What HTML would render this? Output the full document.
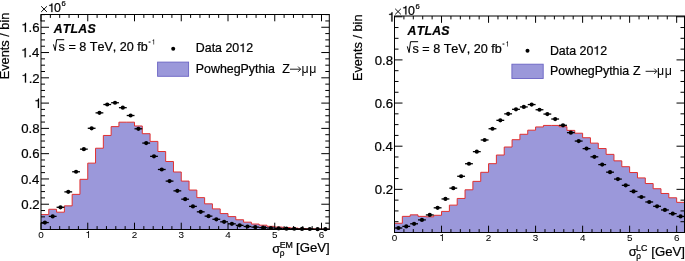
<!DOCTYPE html>
<html><head><meta charset="utf-8"><style>
html,body{margin:0;padding:0;background:#fff;}
body{width:685px;height:261px;overflow:hidden;font-family:"Liberation Sans", sans-serif;}
svg{display:block;font-kerning:none;will-change:transform;} text{font-kerning:none;stroke:#000;stroke-width:0.22px;} text.thin{stroke-width:0.04px;} text.mu{stroke-width:0px;}
</style></head><body>
<svg width="685" height="261" viewBox="0 0 685 261" font-family='"Liberation Sans", sans-serif'>
<rect width="685" height="261" fill="#fff"/>
<path d="M41.00,229.50 L41.00,214.58 L48.79,214.58 L48.79,209.27 L56.58,209.27 L56.58,212.18 L64.38,212.18 L64.38,205.86 L72.17,205.86 L72.17,194.36 L79.96,194.36 L79.96,179.32 L87.75,179.32 L87.75,163.14 L95.54,163.14 L95.54,148.22 L103.34,148.22 L103.34,135.46 L111.13,135.46 L111.13,126.61 L118.92,126.61 L118.92,122.18 L126.71,122.18 L126.71,122.18 L134.50,122.18 L134.50,125.98 L142.29,125.98 L142.29,133.69 L150.09,133.69 L150.09,141.40 L157.88,141.40 L157.88,151.51 L165.67,151.51 L165.67,161.49 L173.46,161.49 L173.46,171.99 L181.25,171.99 L181.25,181.09 L189.05,181.09 L189.05,190.06 L196.84,190.06 L196.84,197.64 L204.63,197.64 L204.63,203.84 L212.42,203.84 L212.42,208.89 L220.21,208.89 L220.21,213.57 L228.01,213.57 L228.01,216.60 L235.80,216.60 L235.80,219.76 L243.59,219.76 L243.59,222.17 L251.38,222.17 L251.38,224.06 L259.17,224.06 L259.17,225.20 L266.96,225.20 L266.96,226.34 L274.76,226.34 L274.76,227.10 L282.55,227.10 L282.55,227.60 L290.34,227.60 L290.34,228.11 L298.13,228.11 L298.13,228.49 L305.92,228.49 L305.92,228.74 L313.72,228.74 L313.72,228.99 L321.51,228.99 L321.51,229.12 L329.30,229.12 L329.30,229.50 Z" fill="#9b98da" stroke="none"/>
<path d="M41.00,214.58 L48.79,214.58 L48.79,209.27 L56.58,209.27 L56.58,212.18 L64.38,212.18 L64.38,205.86 L72.17,205.86 L72.17,194.36 L79.96,194.36 L79.96,179.32 L87.75,179.32 L87.75,163.14 L95.54,163.14 L95.54,148.22 L103.34,148.22 L103.34,135.46 L111.13,135.46 L111.13,126.61 L118.92,126.61 L118.92,122.18 L126.71,122.18 L126.71,122.18 L134.50,122.18 L134.50,125.98 L142.29,125.98 L142.29,133.69 L150.09,133.69 L150.09,141.40 L157.88,141.40 L157.88,151.51 L165.67,151.51 L165.67,161.49 L173.46,161.49 L173.46,171.99 L181.25,171.99 L181.25,181.09 L189.05,181.09 L189.05,190.06 L196.84,190.06 L196.84,197.64 L204.63,197.64 L204.63,203.84 L212.42,203.84 L212.42,208.89 L220.21,208.89 L220.21,213.57 L228.01,213.57 L228.01,216.60 L235.80,216.60 L235.80,219.76 L243.59,219.76 L243.59,222.17 L251.38,222.17 L251.38,224.06 L259.17,224.06 L259.17,225.20 L266.96,225.20 L266.96,226.34 L274.76,226.34 L274.76,227.10 L282.55,227.10 L282.55,227.60 L290.34,227.60 L290.34,228.11 L298.13,228.11 L298.13,228.49 L305.92,228.49 L305.92,228.74 L313.72,228.74 L313.72,228.99 L321.51,228.99 L321.51,229.12 L329.30,229.12" fill="none" stroke="#e03030" stroke-width="1.0"/>
<line x1="41.00" y1="222.57" x2="48.79" y2="222.57" stroke="#000" stroke-width="1.3"/>
<circle cx="44.90" cy="222.57" r="2.1" fill="#000"/>
<line x1="48.79" y1="216.38" x2="56.58" y2="216.38" stroke="#000" stroke-width="1.3"/>
<circle cx="52.69" cy="216.38" r="2.1" fill="#000"/>
<line x1="56.58" y1="207.28" x2="64.38" y2="207.28" stroke="#000" stroke-width="1.3"/>
<circle cx="60.48" cy="207.28" r="2.1" fill="#000"/>
<line x1="64.38" y1="191.86" x2="72.17" y2="191.86" stroke="#000" stroke-width="1.3"/>
<circle cx="68.27" cy="191.86" r="2.1" fill="#000"/>
<line x1="72.17" y1="171.76" x2="79.96" y2="171.76" stroke="#000" stroke-width="1.3"/>
<circle cx="76.06" cy="171.76" r="2.1" fill="#000"/>
<line x1="79.96" y1="149.14" x2="87.75" y2="149.14" stroke="#000" stroke-width="1.3"/>
<circle cx="83.86" cy="149.14" r="2.1" fill="#000"/>
<line x1="87.75" y1="128.28" x2="95.54" y2="128.28" stroke="#000" stroke-width="1.3"/>
<circle cx="91.65" cy="128.28" r="2.1" fill="#000"/>
<line x1="95.54" y1="112.86" x2="103.34" y2="112.86" stroke="#000" stroke-width="1.3"/>
<circle cx="99.44" cy="112.86" r="2.1" fill="#000"/>
<line x1="103.34" y1="104.52" x2="111.13" y2="104.52" stroke="#000" stroke-width="1.3"/>
<circle cx="107.23" cy="104.52" r="2.1" fill="#000"/>
<line x1="111.13" y1="102.75" x2="118.92" y2="102.75" stroke="#000" stroke-width="1.3"/>
<circle cx="115.02" cy="102.75" r="2.1" fill="#000"/>
<line x1="118.92" y1="107.68" x2="126.71" y2="107.68" stroke="#000" stroke-width="1.3"/>
<circle cx="122.81" cy="107.68" r="2.1" fill="#000"/>
<line x1="126.71" y1="115.51" x2="134.50" y2="115.51" stroke="#000" stroke-width="1.3"/>
<circle cx="130.61" cy="115.51" r="2.1" fill="#000"/>
<line x1="134.50" y1="128.79" x2="142.29" y2="128.79" stroke="#000" stroke-width="1.3"/>
<circle cx="138.40" cy="128.79" r="2.1" fill="#000"/>
<line x1="142.29" y1="143.07" x2="150.09" y2="143.07" stroke="#000" stroke-width="1.3"/>
<circle cx="146.19" cy="143.07" r="2.1" fill="#000"/>
<line x1="150.09" y1="156.34" x2="157.88" y2="156.34" stroke="#000" stroke-width="1.3"/>
<circle cx="153.98" cy="156.34" r="2.1" fill="#000"/>
<line x1="157.88" y1="169.49" x2="165.67" y2="169.49" stroke="#000" stroke-width="1.3"/>
<circle cx="161.77" cy="169.49" r="2.1" fill="#000"/>
<line x1="165.67" y1="181.12" x2="173.46" y2="181.12" stroke="#000" stroke-width="1.3"/>
<circle cx="169.57" cy="181.12" r="2.1" fill="#000"/>
<line x1="173.46" y1="190.85" x2="181.25" y2="190.85" stroke="#000" stroke-width="1.3"/>
<circle cx="177.36" cy="190.85" r="2.1" fill="#000"/>
<line x1="181.25" y1="199.19" x2="189.05" y2="199.19" stroke="#000" stroke-width="1.3"/>
<circle cx="185.15" cy="199.19" r="2.1" fill="#000"/>
<line x1="189.05" y1="206.40" x2="196.84" y2="206.40" stroke="#000" stroke-width="1.3"/>
<circle cx="192.94" cy="206.40" r="2.1" fill="#000"/>
<line x1="196.84" y1="211.83" x2="204.63" y2="211.83" stroke="#000" stroke-width="1.3"/>
<circle cx="200.73" cy="211.83" r="2.1" fill="#000"/>
<line x1="204.63" y1="216.13" x2="212.42" y2="216.13" stroke="#000" stroke-width="1.3"/>
<circle cx="208.53" cy="216.13" r="2.1" fill="#000"/>
<line x1="212.42" y1="219.29" x2="220.21" y2="219.29" stroke="#000" stroke-width="1.3"/>
<circle cx="216.32" cy="219.29" r="2.1" fill="#000"/>
<line x1="220.21" y1="221.82" x2="228.01" y2="221.82" stroke="#000" stroke-width="1.3"/>
<circle cx="224.11" cy="221.82" r="2.1" fill="#000"/>
<line x1="228.01" y1="223.84" x2="235.80" y2="223.84" stroke="#000" stroke-width="1.3"/>
<circle cx="231.90" cy="223.84" r="2.1" fill="#000"/>
<line x1="235.80" y1="225.36" x2="243.59" y2="225.36" stroke="#000" stroke-width="1.3"/>
<circle cx="239.69" cy="225.36" r="2.1" fill="#000"/>
<line x1="243.59" y1="226.49" x2="251.38" y2="226.49" stroke="#000" stroke-width="1.3"/>
<circle cx="247.49" cy="226.49" r="2.1" fill="#000"/>
<line x1="251.38" y1="227.12" x2="259.17" y2="227.12" stroke="#000" stroke-width="1.3"/>
<circle cx="255.28" cy="227.12" r="2.1" fill="#000"/>
<line x1="259.17" y1="227.63" x2="266.96" y2="227.63" stroke="#000" stroke-width="1.3"/>
<circle cx="263.07" cy="227.63" r="2.1" fill="#000"/>
<line x1="266.96" y1="228.01" x2="274.76" y2="228.01" stroke="#000" stroke-width="1.3"/>
<circle cx="270.86" cy="228.01" r="2.1" fill="#000"/>
<line x1="274.76" y1="228.39" x2="282.55" y2="228.39" stroke="#000" stroke-width="1.3"/>
<circle cx="278.65" cy="228.39" r="2.1" fill="#000"/>
<line x1="282.55" y1="228.64" x2="290.34" y2="228.64" stroke="#000" stroke-width="1.3"/>
<circle cx="286.44" cy="228.64" r="2.1" fill="#000"/>
<line x1="290.34" y1="228.77" x2="298.13" y2="228.77" stroke="#000" stroke-width="1.3"/>
<circle cx="294.24" cy="228.77" r="2.1" fill="#000"/>
<line x1="298.13" y1="228.89" x2="305.92" y2="228.89" stroke="#000" stroke-width="1.3"/>
<circle cx="302.03" cy="228.89" r="2.1" fill="#000"/>
<line x1="305.92" y1="229.02" x2="313.72" y2="229.02" stroke="#000" stroke-width="1.3"/>
<circle cx="309.82" cy="229.02" r="2.1" fill="#000"/>
<line x1="313.72" y1="229.15" x2="321.51" y2="229.15" stroke="#000" stroke-width="1.3"/>
<circle cx="317.61" cy="229.15" r="2.1" fill="#000"/>
<line x1="321.51" y1="229.15" x2="329.30" y2="229.15" stroke="#000" stroke-width="1.3"/>
<circle cx="325.40" cy="229.15" r="2.1" fill="#000"/>
<rect x="41.00" y="14.50" width="288.30" height="215.00" fill="none" stroke="#000" stroke-width="1.0"/>
<path d="M41.00,229.50v-6.8 M41.00,14.50v6.8 M50.35,229.50v-3.4 M50.35,14.50v3.4 M59.70,229.50v-3.4 M59.70,14.50v3.4 M69.05,229.50v-3.4 M69.05,14.50v3.4 M78.40,229.50v-3.4 M78.40,14.50v3.4 M87.75,229.50v-6.8 M87.75,14.50v6.8 M97.10,229.50v-3.4 M97.10,14.50v3.4 M106.45,229.50v-3.4 M106.45,14.50v3.4 M115.80,229.50v-3.4 M115.80,14.50v3.4 M125.15,229.50v-3.4 M125.15,14.50v3.4 M134.50,229.50v-6.8 M134.50,14.50v6.8 M143.85,229.50v-3.4 M143.85,14.50v3.4 M153.20,229.50v-3.4 M153.20,14.50v3.4 M162.55,229.50v-3.4 M162.55,14.50v3.4 M171.90,229.50v-3.4 M171.90,14.50v3.4 M181.25,229.50v-6.8 M181.25,14.50v6.8 M190.60,229.50v-3.4 M190.60,14.50v3.4 M199.95,229.50v-3.4 M199.95,14.50v3.4 M209.30,229.50v-3.4 M209.30,14.50v3.4 M218.66,229.50v-3.4 M218.66,14.50v3.4 M228.01,229.50v-6.8 M228.01,14.50v6.8 M237.36,229.50v-3.4 M237.36,14.50v3.4 M246.71,229.50v-3.4 M246.71,14.50v3.4 M256.06,229.50v-3.4 M256.06,14.50v3.4 M265.41,229.50v-3.4 M265.41,14.50v3.4 M274.76,229.50v-6.8 M274.76,14.50v6.8 M284.11,229.50v-3.4 M284.11,14.50v3.4 M293.46,229.50v-3.4 M293.46,14.50v3.4 M302.81,229.50v-3.4 M302.81,14.50v3.4 M312.16,229.50v-3.4 M312.16,14.50v3.4 M321.51,229.50v-6.8 M321.51,14.50v6.8 M41.00,229.50h8.0 M329.30,229.50h-8.0 M41.00,223.18h4.0 M329.30,223.18h-4.0 M41.00,216.86h4.0 M329.30,216.86h-4.0 M41.00,210.54h4.0 M329.30,210.54h-4.0 M41.00,204.22h8.0 M329.30,204.22h-8.0 M41.00,197.90h4.0 M329.30,197.90h-4.0 M41.00,191.58h4.0 M329.30,191.58h-4.0 M41.00,185.26h4.0 M329.30,185.26h-4.0 M41.00,178.94h8.0 M329.30,178.94h-8.0 M41.00,172.62h4.0 M329.30,172.62h-4.0 M41.00,166.30h4.0 M329.30,166.30h-4.0 M41.00,159.98h4.0 M329.30,159.98h-4.0 M41.00,153.66h8.0 M329.30,153.66h-8.0 M41.00,147.34h4.0 M329.30,147.34h-4.0 M41.00,141.02h4.0 M329.30,141.02h-4.0 M41.00,134.70h4.0 M329.30,134.70h-4.0 M41.00,128.38h8.0 M329.30,128.38h-8.0 M41.00,122.06h4.0 M329.30,122.06h-4.0 M41.00,115.74h4.0 M329.30,115.74h-4.0 M41.00,109.42h4.0 M329.30,109.42h-4.0 M41.00,103.10h8.0 M329.30,103.10h-8.0 M41.00,96.78h4.0 M329.30,96.78h-4.0 M41.00,90.46h4.0 M329.30,90.46h-4.0 M41.00,84.14h4.0 M329.30,84.14h-4.0 M41.00,77.82h8.0 M329.30,77.82h-8.0 M41.00,71.50h4.0 M329.30,71.50h-4.0 M41.00,65.18h4.0 M329.30,65.18h-4.0 M41.00,58.86h4.0 M329.30,58.86h-4.0 M41.00,52.54h8.0 M329.30,52.54h-8.0 M41.00,46.22h4.0 M329.30,46.22h-4.0 M41.00,39.90h4.0 M329.30,39.90h-4.0 M41.00,33.58h4.0 M329.30,33.58h-4.0 M41.00,27.26h8.0 M329.30,27.26h-8.0 M41.00,20.94h4.0 M329.30,20.94h-4.0 M41.00,14.62h4.0 M329.30,14.62h-4.0" stroke="#000" stroke-width="1.0" fill="none"/>
<text x="38.24" y="238.00" font-size="9.9" class="thin">0</text>
<path d="M89.03,238.00 L89.03,231.04 L88.37,231.04 L88.15,231.81 L87.60,232.21 L86.47,232.29 L86.47,232.93 L88.18,232.93 L88.18,238.00 Z" fill="#000"/>
<text x="131.76" y="238.00" font-size="9.9" class="thin">2</text>
<text x="178.53" y="238.00" font-size="9.9" class="thin">3</text>
<text x="225.28" y="238.00" font-size="9.9" class="thin">4</text>
<text x="272.01" y="238.00" font-size="9.9" class="thin">5</text>
<text x="318.72" y="238.00" font-size="9.9" class="thin">6</text>
<text x="21.33" y="209.02" font-size="13.2">0.2</text>
<text x="21.03" y="183.74" font-size="13.2">0.4</text>
<text x="21.23" y="158.46" font-size="13.2">0.6</text>
<text x="21.23" y="133.18" font-size="13.2">0.8</text>
<path d="M39.00,107.90 L39.00,98.62 L38.12,98.62 L37.83,99.65 L37.10,100.18 L35.59,100.28 L35.59,101.14 L37.86,101.14 L37.86,107.90 Z" fill="#000" stroke="#000" stroke-width="0.22"/>
<path d="M26.06,82.62 L26.06,73.34 L25.18,73.34 L24.89,74.37 L24.16,74.90 L22.66,75.00 L22.66,75.86 L24.93,75.86 L24.93,82.62 Z" fill="#000" stroke="#000" stroke-width="0.22"/>
<text x="28.67" y="82.62" font-size="13.2">.2</text>
<path d="M25.77,57.34 L25.77,48.06 L24.88,48.06 L24.59,49.09 L23.87,49.62 L22.36,49.72 L22.36,50.58 L24.63,50.58 L24.63,57.34 Z" fill="#000" stroke="#000" stroke-width="0.22"/>
<text x="28.37" y="57.34" font-size="13.2">.4</text>
<path d="M25.97,32.06 L25.97,22.78 L25.08,22.78 L24.79,23.81 L24.06,24.34 L22.56,24.44 L22.56,25.30 L24.83,25.30 L24.83,32.06 Z" fill="#000" stroke="#000" stroke-width="0.22"/>
<text x="28.57" y="32.06" font-size="13.2">.6</text>
<path d="M394.50,232.50 L394.50,223.28 L402.34,223.28 L402.34,216.37 L410.18,216.37 L410.18,214.85 L418.01,214.85 L418.01,216.37 L425.85,216.37 L425.85,216.80 L433.69,216.80 L433.69,215.29 L441.53,215.29 L441.53,211.40 L449.36,211.40 L449.36,205.13 L457.20,205.13 L457.20,198.44 L465.04,198.44 L465.04,189.80 L472.88,189.80 L472.88,181.37 L480.72,181.37 L480.72,172.30 L488.55,172.30 L488.55,163.66 L496.39,163.66 L496.39,155.02 L504.23,155.02 L504.23,147.03 L512.07,147.03 L512.07,139.69 L519.91,139.69 L519.91,134.29 L527.74,134.29 L527.74,130.18 L535.58,130.18 L535.58,126.94 L543.42,126.94 L543.42,125.43 L551.26,125.43 L551.26,125.43 L559.09,125.43 L559.09,126.73 L566.93,126.73 L566.93,130.40 L574.77,130.40 L574.77,133.21 L582.61,133.21 L582.61,137.74 L590.45,137.74 L590.45,143.14 L598.28,143.14 L598.28,148.54 L606.12,148.54 L606.12,154.37 L613.96,154.37 L613.96,160.85 L621.80,160.85 L621.80,166.69 L629.64,166.69 L629.64,172.52 L637.47,172.52 L637.47,177.92 L645.31,177.92 L645.31,183.53 L653.15,183.53 L653.15,188.72 L660.99,188.72 L660.99,193.47 L668.82,193.47 L668.82,197.79 L676.66,197.79 L676.66,202.33 L684.50,202.33 L684.50,232.50 Z" fill="#9b98da" stroke="none"/>
<path d="M394.50,223.28 L402.34,223.28 L402.34,216.37 L410.18,216.37 L410.18,214.85 L418.01,214.85 L418.01,216.37 L425.85,216.37 L425.85,216.80 L433.69,216.80 L433.69,215.29 L441.53,215.29 L441.53,211.40 L449.36,211.40 L449.36,205.13 L457.20,205.13 L457.20,198.44 L465.04,198.44 L465.04,189.80 L472.88,189.80 L472.88,181.37 L480.72,181.37 L480.72,172.30 L488.55,172.30 L488.55,163.66 L496.39,163.66 L496.39,155.02 L504.23,155.02 L504.23,147.03 L512.07,147.03 L512.07,139.69 L519.91,139.69 L519.91,134.29 L527.74,134.29 L527.74,130.18 L535.58,130.18 L535.58,126.94 L543.42,126.94 L543.42,125.43 L551.26,125.43 L551.26,125.43 L559.09,125.43 L559.09,126.73 L566.93,126.73 L566.93,130.40 L574.77,130.40 L574.77,133.21 L582.61,133.21 L582.61,137.74 L590.45,137.74 L590.45,143.14 L598.28,143.14 L598.28,148.54 L606.12,148.54 L606.12,154.37 L613.96,154.37 L613.96,160.85 L621.80,160.85 L621.80,166.69 L629.64,166.69 L629.64,172.52 L637.47,172.52 L637.47,177.92 L645.31,177.92 L645.31,183.53 L653.15,183.53 L653.15,188.72 L660.99,188.72 L660.99,193.47 L668.82,193.47 L668.82,197.79 L676.66,197.79 L676.66,202.33 L684.50,202.33" fill="none" stroke="#e03030" stroke-width="1.0"/>
<line x1="394.50" y1="228.00" x2="402.34" y2="228.00" stroke="#000" stroke-width="1.3"/>
<circle cx="398.42" cy="228.00" r="2.1" fill="#000"/>
<line x1="402.34" y1="226.38" x2="410.18" y2="226.38" stroke="#000" stroke-width="1.3"/>
<circle cx="406.26" cy="226.38" r="2.1" fill="#000"/>
<line x1="410.18" y1="223.79" x2="418.01" y2="223.79" stroke="#000" stroke-width="1.3"/>
<circle cx="414.09" cy="223.79" r="2.1" fill="#000"/>
<line x1="418.01" y1="219.90" x2="425.85" y2="219.90" stroke="#000" stroke-width="1.3"/>
<circle cx="421.93" cy="219.90" r="2.1" fill="#000"/>
<line x1="425.85" y1="214.94" x2="433.69" y2="214.94" stroke="#000" stroke-width="1.3"/>
<circle cx="429.77" cy="214.94" r="2.1" fill="#000"/>
<line x1="433.69" y1="207.81" x2="441.53" y2="207.81" stroke="#000" stroke-width="1.3"/>
<circle cx="437.61" cy="207.81" r="2.1" fill="#000"/>
<line x1="441.53" y1="198.95" x2="449.36" y2="198.95" stroke="#000" stroke-width="1.3"/>
<circle cx="445.45" cy="198.95" r="2.1" fill="#000"/>
<line x1="449.36" y1="188.15" x2="457.20" y2="188.15" stroke="#000" stroke-width="1.3"/>
<circle cx="453.28" cy="188.15" r="2.1" fill="#000"/>
<line x1="457.20" y1="176.27" x2="465.04" y2="176.27" stroke="#000" stroke-width="1.3"/>
<circle cx="461.12" cy="176.27" r="2.1" fill="#000"/>
<line x1="465.04" y1="163.74" x2="472.88" y2="163.74" stroke="#000" stroke-width="1.3"/>
<circle cx="468.96" cy="163.74" r="2.1" fill="#000"/>
<line x1="472.88" y1="151.65" x2="480.72" y2="151.65" stroke="#000" stroke-width="1.3"/>
<circle cx="476.80" cy="151.65" r="2.1" fill="#000"/>
<line x1="480.72" y1="139.98" x2="488.55" y2="139.98" stroke="#000" stroke-width="1.3"/>
<circle cx="484.64" cy="139.98" r="2.1" fill="#000"/>
<line x1="488.55" y1="128.75" x2="496.39" y2="128.75" stroke="#000" stroke-width="1.3"/>
<circle cx="492.47" cy="128.75" r="2.1" fill="#000"/>
<line x1="496.39" y1="120.33" x2="504.23" y2="120.33" stroke="#000" stroke-width="1.3"/>
<circle cx="500.31" cy="120.33" r="2.1" fill="#000"/>
<line x1="504.23" y1="113.85" x2="512.07" y2="113.85" stroke="#000" stroke-width="1.3"/>
<circle cx="508.15" cy="113.85" r="2.1" fill="#000"/>
<line x1="512.07" y1="109.31" x2="519.91" y2="109.31" stroke="#000" stroke-width="1.3"/>
<circle cx="515.99" cy="109.31" r="2.1" fill="#000"/>
<line x1="519.91" y1="106.94" x2="527.74" y2="106.94" stroke="#000" stroke-width="1.3"/>
<circle cx="523.82" cy="106.94" r="2.1" fill="#000"/>
<line x1="527.74" y1="104.56" x2="535.58" y2="104.56" stroke="#000" stroke-width="1.3"/>
<circle cx="531.66" cy="104.56" r="2.1" fill="#000"/>
<line x1="535.58" y1="109.74" x2="543.42" y2="109.74" stroke="#000" stroke-width="1.3"/>
<circle cx="539.50" cy="109.74" r="2.1" fill="#000"/>
<line x1="543.42" y1="114.06" x2="551.26" y2="114.06" stroke="#000" stroke-width="1.3"/>
<circle cx="547.34" cy="114.06" r="2.1" fill="#000"/>
<line x1="551.26" y1="119.03" x2="559.09" y2="119.03" stroke="#000" stroke-width="1.3"/>
<circle cx="555.18" cy="119.03" r="2.1" fill="#000"/>
<line x1="559.09" y1="125.30" x2="566.93" y2="125.30" stroke="#000" stroke-width="1.3"/>
<circle cx="563.01" cy="125.30" r="2.1" fill="#000"/>
<line x1="566.93" y1="132.64" x2="574.77" y2="132.64" stroke="#000" stroke-width="1.3"/>
<circle cx="570.85" cy="132.64" r="2.1" fill="#000"/>
<line x1="574.77" y1="141.06" x2="582.61" y2="141.06" stroke="#000" stroke-width="1.3"/>
<circle cx="578.69" cy="141.06" r="2.1" fill="#000"/>
<line x1="582.61" y1="148.62" x2="590.45" y2="148.62" stroke="#000" stroke-width="1.3"/>
<circle cx="586.53" cy="148.62" r="2.1" fill="#000"/>
<line x1="590.45" y1="156.83" x2="598.28" y2="156.83" stroke="#000" stroke-width="1.3"/>
<circle cx="594.36" cy="156.83" r="2.1" fill="#000"/>
<line x1="598.28" y1="164.61" x2="606.12" y2="164.61" stroke="#000" stroke-width="1.3"/>
<circle cx="602.20" cy="164.61" r="2.1" fill="#000"/>
<line x1="606.12" y1="172.17" x2="613.96" y2="172.17" stroke="#000" stroke-width="1.3"/>
<circle cx="610.04" cy="172.17" r="2.1" fill="#000"/>
<line x1="613.96" y1="179.08" x2="621.80" y2="179.08" stroke="#000" stroke-width="1.3"/>
<circle cx="617.88" cy="179.08" r="2.1" fill="#000"/>
<line x1="621.80" y1="185.34" x2="629.64" y2="185.34" stroke="#000" stroke-width="1.3"/>
<circle cx="625.72" cy="185.34" r="2.1" fill="#000"/>
<line x1="629.64" y1="191.39" x2="637.47" y2="191.39" stroke="#000" stroke-width="1.3"/>
<circle cx="633.55" cy="191.39" r="2.1" fill="#000"/>
<line x1="637.47" y1="197.01" x2="645.31" y2="197.01" stroke="#000" stroke-width="1.3"/>
<circle cx="641.39" cy="197.01" r="2.1" fill="#000"/>
<line x1="645.31" y1="201.98" x2="653.15" y2="201.98" stroke="#000" stroke-width="1.3"/>
<circle cx="649.23" cy="201.98" r="2.1" fill="#000"/>
<line x1="653.15" y1="206.30" x2="660.99" y2="206.30" stroke="#000" stroke-width="1.3"/>
<circle cx="657.07" cy="206.30" r="2.1" fill="#000"/>
<line x1="660.99" y1="209.97" x2="668.82" y2="209.97" stroke="#000" stroke-width="1.3"/>
<circle cx="664.91" cy="209.97" r="2.1" fill="#000"/>
<line x1="668.82" y1="213.64" x2="676.66" y2="213.64" stroke="#000" stroke-width="1.3"/>
<circle cx="672.74" cy="213.64" r="2.1" fill="#000"/>
<line x1="676.66" y1="216.45" x2="684.50" y2="216.45" stroke="#000" stroke-width="1.3"/>
<circle cx="680.58" cy="216.45" r="2.1" fill="#000"/>
<rect x="394.50" y="16.00" width="290.00" height="216.50" fill="none" stroke="#000" stroke-width="1.0"/>
<path d="M394.50,232.50v-6.8 M394.50,16.00v6.8 M403.91,232.50v-3.4 M403.91,16.00v3.4 M413.31,232.50v-3.4 M413.31,16.00v3.4 M422.72,232.50v-3.4 M422.72,16.00v3.4 M432.12,232.50v-3.4 M432.12,16.00v3.4 M441.53,232.50v-6.8 M441.53,16.00v6.8 M450.93,232.50v-3.4 M450.93,16.00v3.4 M460.34,232.50v-3.4 M460.34,16.00v3.4 M469.74,232.50v-3.4 M469.74,16.00v3.4 M479.15,232.50v-3.4 M479.15,16.00v3.4 M488.55,232.50v-6.8 M488.55,16.00v6.8 M497.96,232.50v-3.4 M497.96,16.00v3.4 M507.36,232.50v-3.4 M507.36,16.00v3.4 M516.77,232.50v-3.4 M516.77,16.00v3.4 M526.18,232.50v-3.4 M526.18,16.00v3.4 M535.58,232.50v-6.8 M535.58,16.00v6.8 M544.99,232.50v-3.4 M544.99,16.00v3.4 M554.39,232.50v-3.4 M554.39,16.00v3.4 M563.80,232.50v-3.4 M563.80,16.00v3.4 M573.20,232.50v-3.4 M573.20,16.00v3.4 M582.61,232.50v-6.8 M582.61,16.00v6.8 M592.01,232.50v-3.4 M592.01,16.00v3.4 M601.42,232.50v-3.4 M601.42,16.00v3.4 M610.82,232.50v-3.4 M610.82,16.00v3.4 M620.23,232.50v-3.4 M620.23,16.00v3.4 M629.64,232.50v-6.8 M629.64,16.00v6.8 M639.04,232.50v-3.4 M639.04,16.00v3.4 M648.45,232.50v-3.4 M648.45,16.00v3.4 M657.85,232.50v-3.4 M657.85,16.00v3.4 M667.26,232.50v-3.4 M667.26,16.00v3.4 M676.66,232.50v-6.8 M676.66,16.00v6.8 M394.50,232.50h8.0 M684.50,232.50h-8.0 M394.50,221.71h4.0 M684.50,221.71h-4.0 M394.50,210.93h4.0 M684.50,210.93h-4.0 M394.50,200.14h4.0 M684.50,200.14h-4.0 M394.50,189.35h8.0 M684.50,189.35h-8.0 M394.50,178.56h4.0 M684.50,178.56h-4.0 M394.50,167.77h4.0 M684.50,167.77h-4.0 M394.50,156.99h4.0 M684.50,156.99h-4.0 M394.50,146.20h8.0 M684.50,146.20h-8.0 M394.50,135.41h4.0 M684.50,135.41h-4.0 M394.50,124.62h4.0 M684.50,124.62h-4.0 M394.50,113.84h4.0 M684.50,113.84h-4.0 M394.50,103.05h8.0 M684.50,103.05h-8.0 M394.50,92.26h4.0 M684.50,92.26h-4.0 M394.50,81.47h4.0 M684.50,81.47h-4.0 M394.50,70.69h4.0 M684.50,70.69h-4.0 M394.50,59.90h8.0 M684.50,59.90h-8.0 M394.50,49.11h4.0 M684.50,49.11h-4.0 M394.50,38.32h4.0 M684.50,38.32h-4.0 M394.50,27.54h4.0 M684.50,27.54h-4.0 M394.50,16.75h8.0 M684.50,16.75h-8.0" stroke="#000" stroke-width="1.0" fill="none"/>
<text x="391.74" y="241.00" font-size="9.9" class="thin">0</text>
<path d="M442.80,241.00 L442.80,234.04 L442.14,234.04 L441.92,234.81 L441.38,235.21 L440.25,235.29 L440.25,235.93 L441.95,235.93 L441.95,241.00 Z" fill="#000"/>
<text x="485.81" y="241.00" font-size="9.9" class="thin">2</text>
<text x="532.86" y="241.00" font-size="9.9" class="thin">3</text>
<text x="579.89" y="241.00" font-size="9.9" class="thin">4</text>
<text x="626.89" y="241.00" font-size="9.9" class="thin">5</text>
<text x="673.88" y="241.00" font-size="9.9" class="thin">6</text>
<text x="374.83" y="194.15" font-size="13.2">0.2</text>
<text x="374.53" y="151.00" font-size="13.2">0.4</text>
<text x="374.73" y="107.85" font-size="13.2">0.6</text>
<text x="374.73" y="64.70" font-size="13.2">0.8</text>
<path d="M392.50,21.55 L392.50,12.27 L391.62,12.27 L391.33,13.30 L390.60,13.83 L389.09,13.93 L389.09,14.79 L391.36,14.79 L391.36,21.55 Z" fill="#000" stroke="#000" stroke-width="0.22"/>
<path d="M41.2,6.3 L46.9,11.9 M46.9,6.3 L41.2,11.9" stroke="#000" stroke-width="0.95" fill="none"/>
<path d="M52.40,12.10 L52.40,3.38 L51.57,3.38 L51.30,4.35 L50.61,4.85 L49.20,4.95 L49.20,5.75 L51.33,5.75 L51.33,12.10 Z" fill="#000" stroke="#000" stroke-width="0.22"/>
<text x="53.90" y="12.10" font-size="12.4">0</text>
<text x="61.42" y="6.30" font-size="7.6">6</text>
<text x="53.65" y="33.20" font-size="12.3" font-weight="bold" font-style="italic" letter-spacing="0.25">ATLAS</text>
<path d="M53.40,44.40 L55.20,50.60 L56.60,39.70 L64.20,39.70" fill="none" stroke="#000" stroke-width="1.0"/>
<text x="58.62" y="50.60" font-size="12.6">s = 8 TeV, 20 fb</text>
<rect x="148.60" y="41.55" width="1.9" height="1.0" fill="#000"/>
<path d="M154.11,44.40 L154.11,39.20 L153.61,39.20 L153.45,39.77 L153.04,40.07 L152.20,40.13 L152.20,40.61 L153.47,40.61 L153.47,44.40 Z" fill="#000"/>
<circle cx="173.2" cy="48.8" r="2" fill="#000"/>
<text x="195.81" y="52.10" font-size="12.4">Data 20</text>
<path d="M243.69,52.10 L243.69,43.38 L242.86,43.38 L242.59,44.35 L241.90,44.85 L240.49,44.95 L240.49,45.75 L242.62,45.75 L242.62,52.10 Z" fill="#000" stroke="#000" stroke-width="0.22"/>
<text x="246.13" y="52.10" font-size="12.4">2</text>
<rect x="157.6" y="62.1" width="31" height="14.2" fill="#9b98da" stroke="#6b64c4" stroke-width="0.9"/>
<text x="195.81" y="72.50" font-size="12.4">PowhegPythia</text>
<text x="282.23" y="72.50" font-size="12.4">Z</text>
<path d="M290.00,69.20 H300.30 M298.10,66.60 L300.70,69.20 L298.10,71.80" fill="none" stroke="#000" stroke-width="0.9" stroke-linejoin="miter"/>
<text x="301.49" y="72.50" font-size="12.4" class="mu" letter-spacing="0.6">μμ</text>
<text transform="translate(9.3,79.3) rotate(-90)" font-size="12.75">Events / bin</text>
<text x="272.28" y="252.70" font-size="12.9">σ</text>
<text x="279.76" y="256.00" font-size="8.3">ρ</text>
<text x="279.70" y="247.70" font-size="8.8">EM</text>
<text x="295.98" y="251.60" font-size="13.2">[GeV]</text>
<path d="M395.2,8.8 L400.9,14.4 M400.9,8.8 L395.2,14.4" stroke="#000" stroke-width="0.95" fill="none"/>
<path d="M406.40,14.60 L406.40,5.88 L405.57,5.88 L405.30,6.85 L404.61,7.35 L403.20,7.45 L403.20,8.25 L405.33,8.25 L405.33,14.60 Z" fill="#000" stroke="#000" stroke-width="0.22"/>
<text x="407.90" y="14.60" font-size="12.4">0</text>
<text x="415.42" y="8.80" font-size="7.6">6</text>
<text x="407.55" y="35.20" font-size="12.3" font-weight="bold" font-style="italic" letter-spacing="0.25">ATLAS</text>
<path d="M407.30,46.40 L409.10,52.60 L410.50,41.70 L418.10,41.70" fill="none" stroke="#000" stroke-width="1.0"/>
<text x="412.52" y="52.60" font-size="12.6">s = 8 TeV, 20 fb</text>
<rect x="502.50" y="43.55" width="1.9" height="1.0" fill="#000"/>
<path d="M508.01,46.40 L508.01,41.20 L507.51,41.20 L507.35,41.77 L506.94,42.07 L506.10,42.13 L506.10,42.61 L507.37,42.61 L507.37,46.40 Z" fill="#000"/>
<circle cx="527.5" cy="50.7" r="2" fill="#000"/>
<text x="549.91" y="54.80" font-size="12.4">Data 20</text>
<path d="M597.79,54.80 L597.79,46.08 L596.96,46.08 L596.69,47.05 L596.00,47.55 L594.59,47.65 L594.59,48.45 L596.72,48.45 L596.72,54.80 Z" fill="#000" stroke="#000" stroke-width="0.22"/>
<text x="600.23" y="54.80" font-size="12.4">2</text>
<rect x="511.9" y="64.2" width="31.3" height="14.3" fill="#9b98da" stroke="#6b64c4" stroke-width="0.9"/>
<text x="549.91" y="74.60" font-size="12.4">PowhegPythia</text>
<text x="632.93" y="74.60" font-size="12.4">Z</text>
<path d="M645.60,71.30 H656.50 M654.30,68.70 L656.90,71.30 L654.30,73.90" fill="none" stroke="#000" stroke-width="0.9" stroke-linejoin="miter"/>
<text x="657.09" y="74.60" font-size="12.4" class="mu" letter-spacing="0.6">μμ</text>
<text transform="translate(362.3,81.1) rotate(-90)" font-size="12.75">Events / bin</text>
<text x="628.78" y="255.70" font-size="12.9">σ</text>
<text x="636.16" y="259.00" font-size="8.3">ρ</text>
<text x="636.10" y="250.90" font-size="8.8">LC</text>
<text x="651.28" y="255.60" font-size="13.2">[GeV]</text>
</svg>
</body></html>
